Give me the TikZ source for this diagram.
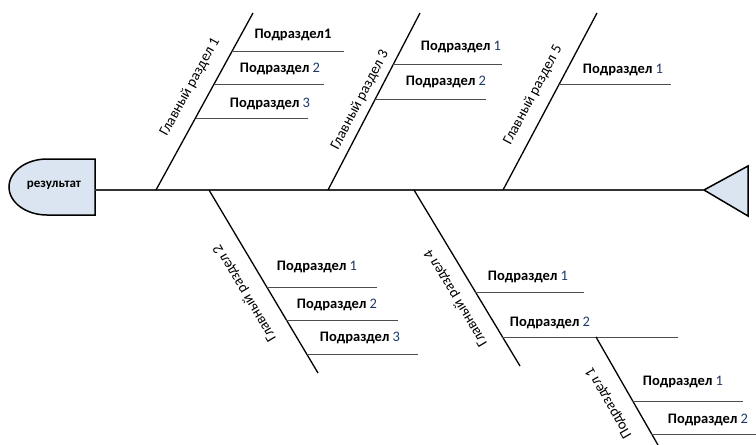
\documentclass[tikz,border=0pt]{standalone}
\usepackage{fontspec}
\setmainfont{Carlito}
\definecolor{headfill}{HTML}{DBE4F1}
\definecolor{numcol}{HTML}{1F3864}
\definecolor{spinecol}{HTML}{333333}
\definecolor{twigcol}{HTML}{4D4D4D}
\newcommand{\podr}[1]{\textbf{Подраздел} \textcolor{numcol}{#1}}

\begin{document}
\begin{tikzpicture}[x=1pt, y=-1pt,
	spine/.style={draw=spinecol, line width=2.2pt},
	bone/.style={draw=black, line width=1.3pt},
	twig/.style={draw=twigcol, line width=1pt},
	mainlbl/.style={font=\fontsize{14.7}{17}\selectfont, inner sep=0pt},
	sublbl/.style={font=\fontsize{14.5}{17}\selectfont, inner sep=0pt}
]
	\useasboundingbox (0,0) rectangle (756,445);

	% head and tail
	\draw[fill=headfill, line width=1.5pt] (95,159) -- (47,159)
		arc[start angle=270, end angle=90, x radius=38, y radius=28] -- (95,215) -- cycle;
	\node[sublbl, font=\fontsize{13}{15}\selectfont\bfseries] (res) at (54,185) {результат};
	\coordinate (head) at (95,190);
	\draw[fill=headfill, line width=1.5pt] (704,190) -- (748,166) -- (748,216) -- cycle;
	\coordinate (tail) at (704,190);
	\draw[spine] (head) -- (tail);

	% upper bones
	\coordinate (b1) at (156,190);  \coordinate (b1e) at (253,13);
	\coordinate (b3) at (328,190);  \coordinate (b3e) at (420,13);
	\coordinate (b5) at (503,190);  \coordinate (b5e) at (597,13);
	\draw[bone] (b1) -- (b1e);
	\draw[bone] (b3) -- (b3e);
	\draw[bone] (b5) -- (b5e);
	\node[mainlbl, rotate=61.3] (g1) at (190,87) {Главный раздел 1};
	\node[mainlbl, rotate=62.5] (g3) at (360,100) {Главный раздел 3};
	\node[mainlbl, rotate=62]   (g5) at (533,95) {Главный раздел 5};

	% lower bones
	\coordinate (b2) at (209,190);  \coordinate (b2e) at (318,373);
	\coordinate (b4) at (414,190);  \coordinate (b4e) at (520,366);
	\draw[bone] (b2) -- (b2e);
	\draw[bone] (b4) -- (b4e);
	\node[mainlbl, rotate=120.8] (g2) at (245,293) {Главный раздел 2};
	\node[mainlbl, rotate=121]   (g4) at (456,298) {Главный раздел 4};

	% twigs of 1
	\coordinate (t11) at (232,51);   \coordinate (t11e) at (344,51);
	\coordinate (t12) at (214,84);   \coordinate (t12e) at (324,84);
	\coordinate (t13) at (196,118);  \coordinate (t13e) at (308,118);
	\draw[twig] (t11) -- (t11e);
	\draw[twig] (t12) -- (t12e);
	\draw[twig] (t13) -- (t13e);
	\node[sublbl] (p11) at (293,35) {\textbf{Подраздел1}};
	\node[sublbl] (p12) at (280,69) {\podr{2}};
	\node[sublbl] (p13) at (270,104) {\podr{3}};

	% twigs of 3
	\coordinate (t31) at (393,64);   \coordinate (t31e) at (502,64);
	\coordinate (t32) at (375,99);   \coordinate (t32e) at (486,99);
	\draw[twig] (t31) -- (t31e);
	\draw[twig] (t32) -- (t32e);
	\node[sublbl] (p31) at (461,47) {\podr{1}};
	\node[sublbl] (p32) at (446,82) {\podr{2}};

	% twig of 5
	\coordinate (t51) at (559,84);   \coordinate (t51e) at (671,84);
	\draw[twig] (t51) -- (t51e);
	\node[sublbl] (p51) at (623,70) {\podr{1}};

	% twigs of 2
	\coordinate (t21) at (267,287);  \coordinate (t21e) at (377,287);
	\coordinate (t22) at (286,320);  \coordinate (t22e) at (398,320);
	\coordinate (t23) at (307,354);  \coordinate (t23e) at (418,354);
	\draw[twig] (t21) -- (t21e);
	\draw[twig] (t22) -- (t22e);
	\draw[twig] (t23) -- (t23e);
	\node[sublbl] (p21) at (317,267) {\podr{1}};
	\node[sublbl] (p22) at (337,305) {\podr{2}};
	\node[sublbl] (p23) at (360,338) {\podr{3}};

	% twigs of 4
	\coordinate (t41) at (475,292);  \coordinate (t41e) at (584,292);
	\coordinate (t42) at (502,337);  \coordinate (t42e) at (678,337);
	\draw[twig] (t41) -- (t41e);
	\draw[twig] (t42) -- (t42e);
	\node[sublbl] (p41) at (528,277) {\podr{1}};
	\node[sublbl] (p42) at (550,323) {\podr{2}};

	% small bone off twig 4-2
	\coordinate (s1) at (596,337);   \coordinate (s1e) at (662,452);
	\draw[bone] (s1) -- (s1e);
	\node[mainlbl, rotate=120] (g41) at (609,403) {Подраздел 1};
	\coordinate (s11) at (632,401);  \coordinate (s11e) at (743,401);
	\coordinate (s12) at (651,434);  \coordinate (s12e) at (756,434);
	\draw[twig] (s11) -- (s11e);
	\draw[twig] (s12) -- (s12e);
	\node[sublbl] (ps11) at (683,382) {\podr{1}};
	\node[sublbl] (ps12) at (708,420) {\podr{2}};
\end{tikzpicture}
\end{document}
